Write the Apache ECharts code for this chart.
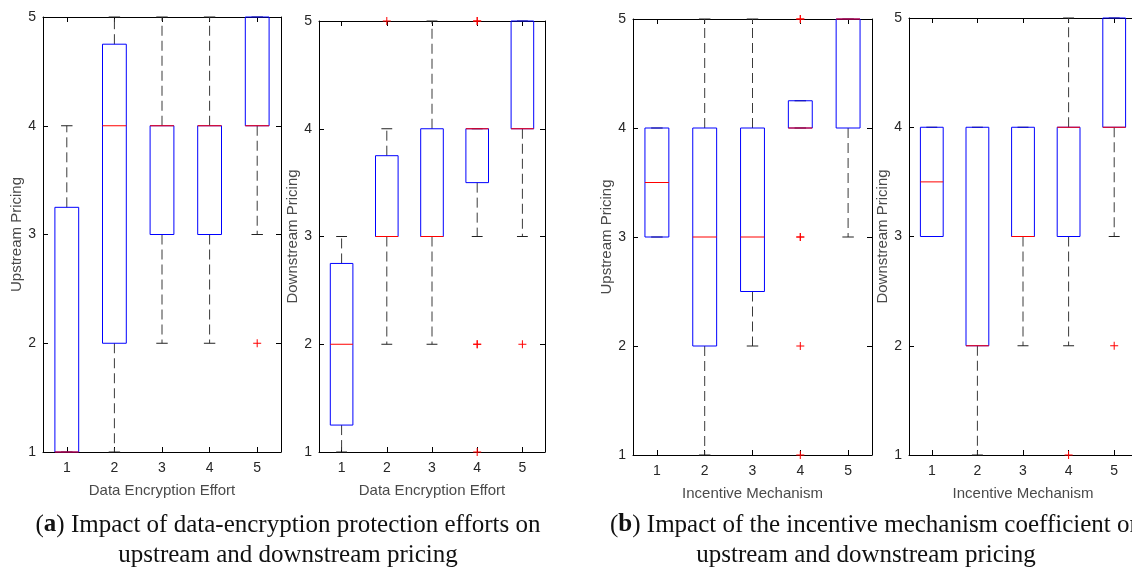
<!DOCTYPE html>
<html>
<head>
<meta charset="utf-8">
<script src="https://cdn.jsdelivr.net/npm/echarts@6/dist/echarts.min.js"></script>
<style>
  html, body { margin: 0; padding: 0; background: #ffffff; }
  #chart { width: 1132px; height: 572px; }
</style>
</head>
<body>
<div id="chart"></div>
<script>
// Levels on every horizontal axis
const levels = ['1', '2', '3', '4', '5'];
const priceTicks = [1, 5, 1]; // min, max, step of the pricing axes

// Box statistics per level: [lower whisker, Q1, median, Q3, upper whisker]
const encUpBoxes = [
  [1, 1, 1, 3.25, 4],
  [1, 2, 4, 4.75, 5],
  [2, 3, 4, 4, 5],
  [2, 3, 4, 4, 5],
  [3, 4, 4, 5, 5]
];
const encDownBoxes = [
  [1, 1.25, 2, 2.75, 3],
  [2, 3, 3, 3.75, 4],
  [2, 3, 3, 4, 5],
  [3, 3.5, 4, 4, 4],
  [3, 4, 4, 5, 5]
];
const incUpBoxes = [
  [3, 3, 3.5, 4, 4],
  [1, 2, 3, 4, 5],
  [2, 2.5, 3, 4, 5],
  [4, 4, 4, 4.25, 4.25],
  [3, 4, 5, 5, 5]
];
const incDownBoxes = [
  [3, 3, 3.5, 4, 4],
  [1, 2, 2, 4, 4],
  [2, 3, 3, 4, 4],
  [2, 3, 4, 4, 5],
  [3, 4, 4, 5, 5]
];

// Outliers: [level index, value]; repeated points overlap
const encUpOutliers = [[4, 2]];
const encDownOutliers = [[1, 5], [3, 5], [3, 5], [3, 2], [3, 2], [3, 1], [4, 2]];
const incUpOutliers = [[3, 5], [3, 5], [3, 3], [3, 3], [3, 2], [3, 1]];
const incDownOutliers = [[3, 1], [4, 2]];

const SANS = 'Liberation Sans, Arial, sans-serif';
const SERIF = 'Liberation Serif, Times New Roman, serif';

function renderBox(params, api) {
  const i = api.value(0);
  const lo = api.value(1), q1 = api.value(2), med = api.value(3), q3 = api.value(4), hi = api.value(5);
  const band = api.size([1, 0])[0];
  const half = band * 0.25;
  const cap = band * 0.12;
  const cx = api.coord([i, med])[0];
  const yLo = api.coord([i, lo])[1];
  const yQ1 = api.coord([i, q1])[1];
  const yMed = api.coord([i, med])[1];
  const yQ3 = api.coord([i, q3])[1];
  const yHi = api.coord([i, hi])[1];
  const dash = { stroke: '#3a3a3a', lineWidth: 1, lineDash: [10, 5], fill: null };
  const solid = { stroke: '#222222', lineWidth: 1, fill: null };
  const children = [];
  if (hi > q3) children.push({ type: 'line', shape: { x1: cx, y1: yQ3, x2: cx, y2: yHi }, style: dash });
  if (lo < q1) children.push({ type: 'line', shape: { x1: cx, y1: yQ1, x2: cx, y2: yLo }, style: dash });
  children.push({ type: 'line', shape: { x1: cx - cap, y1: yHi, x2: cx + cap, y2: yHi }, style: solid });
  children.push({ type: 'line', shape: { x1: cx - cap, y1: yLo, x2: cx + cap, y2: yLo }, style: solid });
  children.push({
    type: 'rect',
    shape: { x: cx - half, y: yQ3, width: half * 2, height: yQ1 - yQ3 },
    style: { stroke: '#0000ff', lineWidth: 1, fill: null }
  });
  children.push({
    type: 'line',
    shape: { x1: cx - half, y1: yMed, x2: cx + half, y2: yMed },
    style: { stroke: '#ff0000', lineWidth: 1 }
  });
  return { type: 'group', children: children };
}

function renderPlus(params, api) {
  const p = api.coord([api.value(0), api.value(1)]);
  const r = 4;
  const st = { stroke: '#ff0000', lineWidth: 1 };
  return {
    type: 'group',
    children: [
      { type: 'line', shape: { x1: p[0] - r, y1: p[1], x2: p[0] + r, y2: p[1] }, style: st },
      { type: 'line', shape: { x1: p[0], y1: p[1] - r, x2: p[0], y2: p[1] + r }, style: st }
    ]
  };
}

const panels = [
  { rect: { left: 43, top: 17, width: 238, height: 435 }, xName: 'Data Encryption Effort', yName: 'Upstream Pricing', boxes: encUpBoxes, outliers: encUpOutliers },
  { rect: { left: 319, top: 21, width: 226, height: 431 }, xName: 'Data Encryption Effort', yName: 'Downstream Pricing', boxes: encDownBoxes, outliers: encDownOutliers },
  { rect: { left: 633, top: 19, width: 239, height: 436 }, xName: 'Incentive Mechanism', yName: 'Upstream Pricing', boxes: incUpBoxes, outliers: incUpOutliers },
  { rect: { left: 909, top: 18, width: 228, height: 437 }, xName: 'Incentive Mechanism', yName: 'Downstream Pricing', boxes: incDownBoxes, outliers: incDownOutliers }
];

const grid = [], xAxis = [], yAxis = [], series = [];
const frameLine = { show: true, lineStyle: { color: '#000000', width: 1 } };

panels.forEach(function (pn, k) {
  grid.push(Object.assign({ containLabel: false, outerBoundsMode: 'none' }, pn.rect));
  xAxis.push({
    type: 'category', gridIndex: k, data: levels, position: 'bottom', boundaryGap: true,
    axisLine: frameLine,
    axisTick: { show: true, inside: true, alignWithLabel: true, length: 5, lineStyle: { color: '#000000' } },
    axisLabel: { fontSize: 14, color: '#262626', margin: 9, fontFamily: SANS },
    splitLine: { show: false },
    name: pn.xName, nameLocation: 'middle', nameGap: 31,
    nameTextStyle: { fontSize: 15, color: '#4a4a4a', fontFamily: SANS }
  });
  xAxis.push({
    type: 'category', gridIndex: k, data: levels, position: 'top', boundaryGap: true,
    axisLine: frameLine,
    axisTick: { show: true, inside: true, alignWithLabel: true, length: 5, lineStyle: { color: '#000000' } },
    axisLabel: { show: false }, splitLine: { show: false }
  });
  yAxis.push({
    type: 'value', gridIndex: k, position: 'left',
    min: priceTicks[0], max: priceTicks[1], interval: priceTicks[2],
    axisLine: frameLine,
    axisTick: { show: true, inside: true, length: 5, lineStyle: { color: '#000000' } },
    axisLabel: { fontSize: 14, color: '#262626', margin: 7, fontFamily: SANS },
    splitLine: { show: false },
    name: pn.yName, nameLocation: 'middle', nameGap: 16,
    nameTextStyle: { fontSize: 15, color: '#4a4a4a', fontFamily: SANS }
  });
  yAxis.push({
    type: 'value', gridIndex: k, position: 'right',
    min: priceTicks[0], max: priceTicks[1], interval: priceTicks[2],
    axisLine: frameLine,
    axisTick: { show: true, inside: true, length: 5, lineStyle: { color: '#000000' } },
    axisLabel: { show: false }, splitLine: { show: false }
  });
  series.push({
    type: 'custom', xAxisIndex: 2 * k, yAxisIndex: 2 * k,
    data: pn.boxes.map(function (b, i) { return [i].concat(b); }),
    encode: { x: 0, y: [1, 2, 3, 4, 5] },
    renderItem: renderBox, clip: false, silent: true, z: 3
  });
  series.push({
    type: 'custom', xAxisIndex: 2 * k, yAxisIndex: 2 * k,
    data: pn.outliers,
    encode: { x: 0, y: 1 },
    renderItem: renderPlus, clip: false, silent: true, z: 4
  });
});

function captionStyle(text, align) {
  return {
    text: text, fontSize: 25, fontFamily: SERIF, fill: '#111111', align: align, verticalAlign: 'middle',
    rich: { b: { fontSize: 25, fontFamily: SERIF, fontWeight: 'bold', fill: '#111111' } }
  };
}

const chart = echarts.init(document.getElementById('chart'), null, { renderer: 'canvas' });
chart.setOption({
  animation: false,
  backgroundColor: '#ffffff',
  grid: grid, xAxis: xAxis, yAxis: yAxis, series: series,
  graphic: [
    { type: 'text', x: 288, y: 525, style: captionStyle('({b|a}) Impact of data-encryption protection efforts on', 'center') },
    { type: 'text', x: 288, y: 555, style: captionStyle('upstream and downstream pricing', 'center') },
    { type: 'text', x: 610, y: 525, style: captionStyle('({b|b}) Impact of the incentive mechanism coefficient on', 'left') },
    { type: 'text', x: 866, y: 555, style: captionStyle('upstream and downstream pricing', 'center') }
  ]
});
</script>
</body>
</html>
